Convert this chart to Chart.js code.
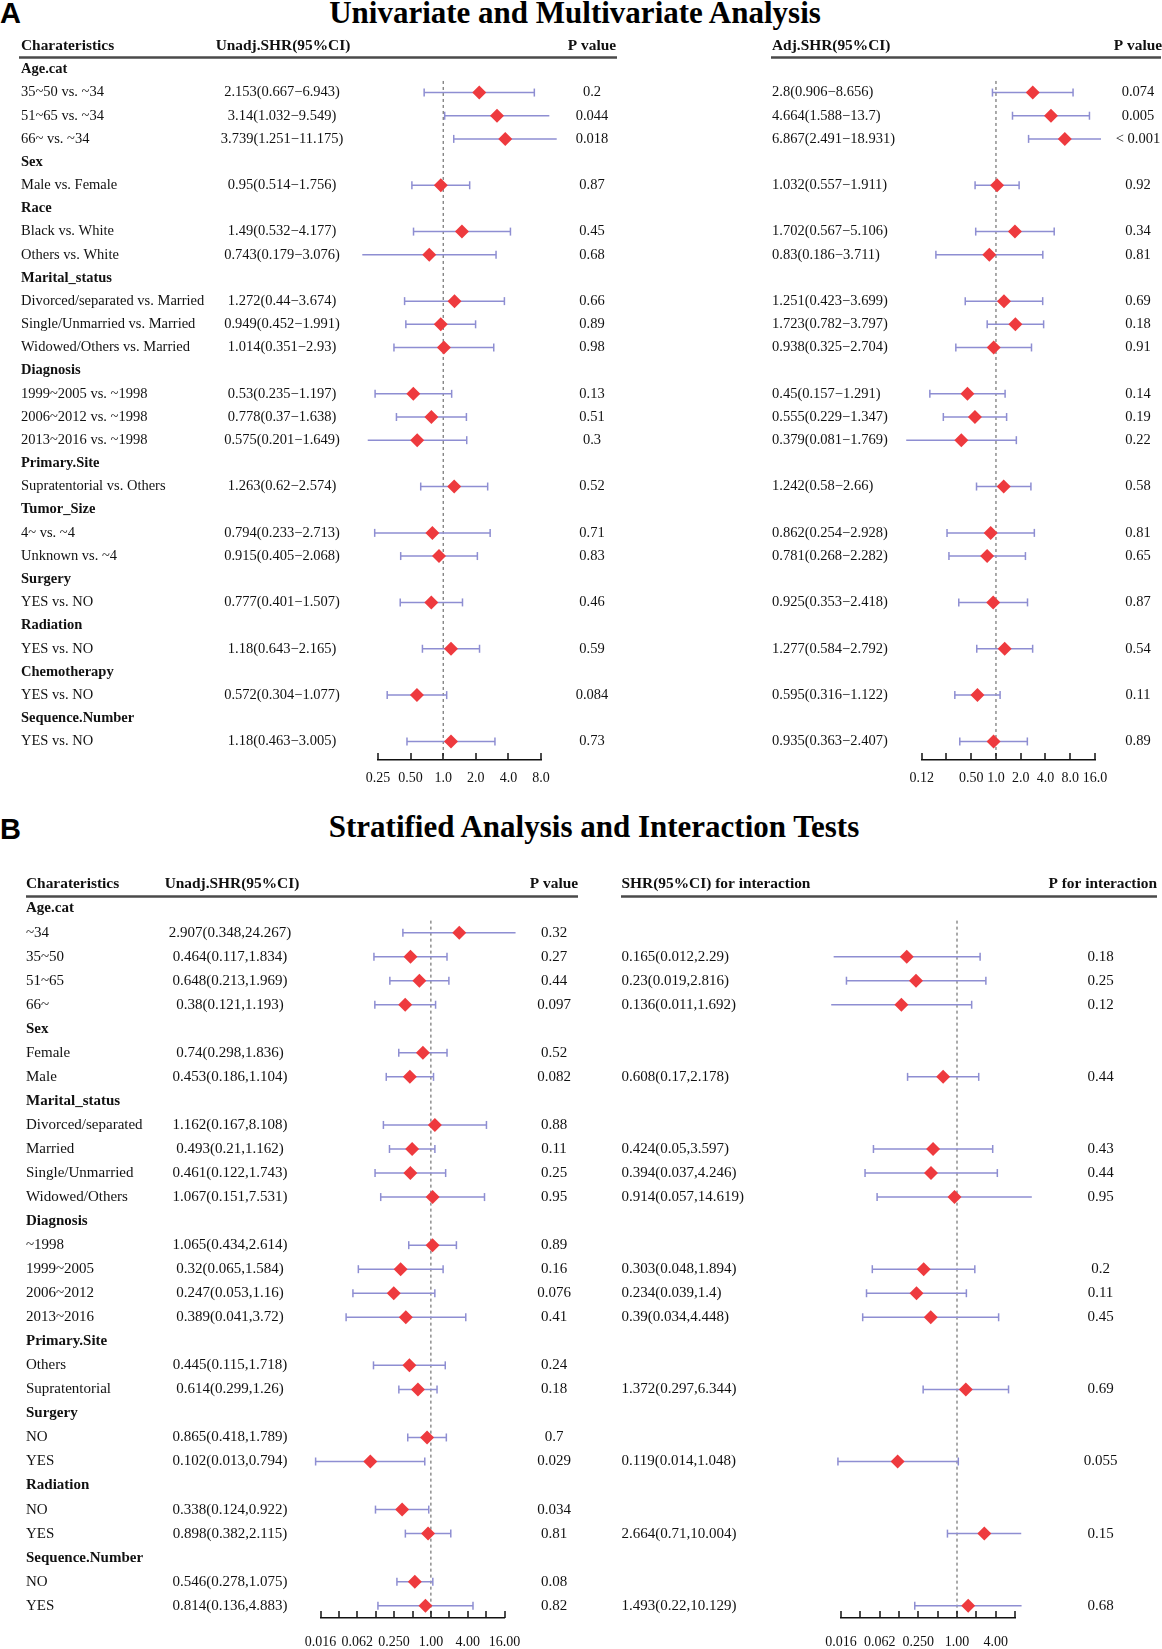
<!doctype html>
<html>
<head>
<meta charset="utf-8">
<title>Forest plots</title>
<script src="https://cdn.jsdelivr.net/npm/chart.js@4.4.1/dist/chart.umd.min.js"></script>
<style>
 body{margin:0;background:#fff}
 #page{position:relative;width:1162px;height:1649px;overflow:hidden}
 canvas{position:absolute}
 .ttl{position:absolute;width:800px;text-align:center;font:bold 31px/31px "Liberation Serif",serif;color:#000;white-space:nowrap}
 .tag{position:absolute;left:0;font:bold 29px/29px "Liberation Sans",Arial,sans-serif;color:#000}
</style>
</head>
<body>
<div id="page">
 <div class="tag" style="top:-1px">A</div>
 <div class="ttl" style="left:175px;top:-3px">Univariate and Multivariate Analysis</div>
 <div class="tag" style="top:815px">B</div>
 <div class="ttl" style="left:194px;top:811px">Stratified Analysis and Interaction Tests</div>
 <canvas id="aLeft" width="640" height="800" style="left:0;top:0"></canvas>
 <canvas id="aRight" width="522" height="800" style="left:640px;top:0"></canvas>
 <canvas id="bLeft" width="600" height="849" style="left:0;top:800px"></canvas>
 <canvas id="bRight" width="562" height="849" style="left:600px;top:800px"></canvas>
</div>

<script>
/* ===== Panel A: univariate / multivariate ============================ */
const aRows = ['Age.cat','35~50 vs. ~34','51~65 vs. ~34','66~ vs. ~34','Sex','Male vs. Female','Race','Black vs. White','Others vs. White',
  'Marital_status','Divorced/separated vs. Married','Single/Unmarried vs. Married','Widowed/Others vs. Married','Diagnosis',
  '1999~2005 vs. ~1998','2006~2012 vs. ~1998','2013~2016 vs. ~1998','Primary.Site','Supratentorial vs. Others','Tumor_Size',
  '4~ vs. ~4','Unknown vs. ~4','Surgery','YES vs. NO','Radiation','YES vs. NO','Chemotherapy','YES vs. NO','Sequence.Number','YES vs. NO'];
const aUniHR = [null,2.153,3.14,3.739,null,0.95,null,1.49,0.743,null,1.272,0.949,1.014,null,0.53,0.778,0.575,null,1.263,null,0.794,0.915,null,0.777,null,1.18,null,0.572,null,1.18];
const aUniLo = [null,0.667,1.032,1.251,null,0.514,null,0.532,0.179,null,0.44,0.452,0.351,null,0.235,0.37,0.201,null,0.62,null,0.233,0.405,null,0.401,null,0.643,null,0.304,null,0.463];
const aUniHi = [null,6.943,9.549,11.175,null,1.756,null,4.177,3.076,null,3.674,1.991,2.93,null,1.197,1.638,1.649,null,2.574,null,2.713,2.068,null,1.507,null,2.165,null,1.077,null,3.005];
const aUniP  = ['','0.2','0.044','0.018','','0.87','','0.45','0.68','','0.66','0.89','0.98','','0.13','0.51','0.3','','0.52','','0.71','0.83','','0.46','','0.59','','0.084','','0.73'];
const aAdjHR = [null,2.8,4.664,6.867,null,1.032,null,1.702,0.83,null,1.251,1.723,0.938,null,0.45,0.555,0.379,null,1.242,null,0.862,0.781,null,0.925,null,1.277,null,0.595,null,0.935];
const aAdjLo = [null,0.906,1.588,2.491,null,0.557,null,0.567,0.186,null,0.423,0.782,0.325,null,0.157,0.229,0.081,null,0.58,null,0.254,0.268,null,0.353,null,0.584,null,0.316,null,0.363];
const aAdjHi = [null,8.656,13.7,18.931,null,1.911,null,5.106,3.711,null,3.699,3.797,2.704,null,1.291,1.347,1.769,null,2.66,null,2.928,2.282,null,2.418,null,2.792,null,1.122,null,2.407];
const aAdjP  = ['','0.074','0.005','< 0.001','','0.92','','0.34','0.81','','0.69','0.18','0.91','','0.14','0.19','0.22','','0.58','','0.81','0.65','','0.87','','0.54','','0.11','','0.89'];

/* ===== Panel B: stratified / interaction ============================= */
const bRows = ['Age.cat','~34','35~50','51~65','66~','Sex','Female','Male','Marital_status','Divorced/separated','Married','Single/Unmarried',
  'Widowed/Others','Diagnosis','~1998','1999~2005','2006~2012','2013~2016','Primary.Site','Others','Supratentorial','Surgery','NO','YES',
  'Radiation','NO','YES','Sequence.Number','NO','YES'];
const bUniHR = [null,2.907,0.464,0.648,0.38,null,0.74,0.453,null,1.162,0.493,0.461,1.067,null,1.065,0.32,0.247,0.389,null,0.445,0.614,null,0.865,0.102,null,0.338,0.898,null,0.546,0.814];
const bUniLo = [null,0.348,0.117,0.213,0.121,null,0.298,0.186,null,0.167,0.21,0.122,0.151,null,0.434,0.065,0.053,0.041,null,0.115,0.299,null,0.418,0.013,null,0.124,0.382,null,0.278,0.136];
const bUniHi = [null,24.267,1.834,1.969,1.193,null,1.836,1.104,null,8.108,1.162,1.743,7.531,null,2.614,1.584,1.16,3.72,null,1.718,1.26,null,1.789,0.794,null,0.922,2.115,null,1.075,4.883];
const bUniP  = ['','0.32','0.27','0.44','0.097','','0.52','0.082','','0.88','0.11','0.25','0.95','','0.89','0.16','0.076','0.41','','0.24','0.18','','0.7','0.029','','0.034','0.81','','0.08','0.82'];
const bIntHR = [null,null,0.165,0.23,0.136,null,null,0.608,null,null,0.424,0.394,0.914,null,null,0.303,0.234,0.39,null,null,1.372,null,null,0.119,null,null,2.664,null,null,1.493];
const bIntLo = [null,null,0.012,0.019,0.011,null,null,0.17,null,null,0.05,0.037,0.057,null,null,0.048,0.039,0.034,null,null,0.297,null,null,0.014,null,null,0.71,null,null,0.22];
const bIntHi = [null,null,2.29,2.816,1.692,null,null,2.178,null,null,3.597,4.246,14.619,null,null,1.894,1.4,4.448,null,null,6.344,null,null,1.048,null,null,10.004,null,null,10.129];
const bIntP  = ['','','0.18','0.25','0.12','','','0.44','','','0.43','0.44','0.95','','','0.2','0.11','0.45','','','0.69','','','0.055','','','0.15','','','0.68'];

/* ===== axis ticks ==================================================== */
const aLeftTicks  = [0.25,0.5,1,2,4,8];
const aLeftLabels = ['0.25','0.50','1.0','2.0','4.0','8.0'];
const aRightTicks  = [0.125,0.25,0.5,1,2,4,8,16];
const aRightLabels = ['0.12','','0.50','1.0','2.0','4.0','8.0','16.0'];
const bLeftTicks  = [0.015625,0.03125,0.0625,0.125,0.25,0.5,1,2,4,8,16];
const bLeftLabels = ['0.016','','0.062','','0.250','','1.00','','4.00','','16.00'];
const bRightTicks  = [0.015625,0.03125,0.0625,0.125,0.25,0.5,1,2,4,8];
const bRightLabels = ['0.016','','0.062','','0.250','','1.00','','4.00',''];

const RED = '#ee3a3e', CI = '#8e8ed2', SERIF = '"Liberation Serif", "Times New Roman", serif';
const ci = (h,l,u,sep) => i => h[i]==null ? '' : `${h[i]}(${l[i]}${sep}${u[i]})`;

/* Tabelle, Kopfzeile, Referenzlinie und Achsenstriche */
const tablePlugin = {
  id:'table',
  beforeDatasetsDraw(chart, args, o){
    const {ctx, chartArea, scales:{x,y}} = chart;
    const px = x.getPixelForValue(1);
    ctx.save();
    ctx.strokeStyle = '#555'; ctx.lineWidth = 1; ctx.setLineDash([3,3]);
    ctx.beginPath(); ctx.moveTo(px, y.getPixelForValue(0.5)); ctx.lineTo(px, chartArea.bottom); ctx.stroke();
    ctx.restore();
  },
  afterDraw(chart, args, o){
    const {ctx, chartArea, scales:{x,y}} = chart;
    ctx.save();
    // tick marks pointing up
    ctx.strokeStyle = '#111'; ctx.lineWidth = 1.5;
    o.ticks.forEach(v=>{
      const px = Math.round(x.getPixelForValue(v));
      ctx.beginPath(); ctx.moveTo(px, chartArea.bottom); ctx.lineTo(px, chartArea.bottom-7); ctx.stroke();
    });
    // header
    ctx.fillStyle = '#111'; ctx.textBaseline = 'middle';
    ctx.font = `bold ${o.headSize}px ${SERIF}`;
    o.head.forEach(h=>{ ctx.textAlign = h.align; ctx.fillText(h.t, h.x, o.headY); });
    ctx.strokeStyle = '#4a4a4a'; ctx.lineWidth = 2.5;
    ctx.beginPath(); ctx.moveTo(o.line[0], o.lineY); ctx.lineTo(o.line[1], o.lineY); ctx.stroke();
    // rows
    for(let i=0;i<o.n;i++){
      const py = y.getPixelForValue(i);
      o.cols.forEach(c=>{
        const bold = c.group && o.isGroup(i);
        ctx.font = `${bold?'bold ':''}${o.size}px ${SERIF}`;
        ctx.textAlign = c.align;
        ctx.fillText(c.text(i), c.x, py);
      });
    }
    ctx.restore();
  }
};

function makeForest(id, f){
  const datasets = [{
    type:'scatter',
    data: f.hr.map((v,i)=> v==null ? null : {x:v, y:i}).filter(Boolean),
    pointStyle:'rectRot', pointRadius:7, pointHoverRadius:7,
    backgroundColor:RED, borderWidth:0, clip:false
  }];
  f.hr.forEach((v,i)=>{
    if(v==null) return;
    datasets.push({
      type:'line', data:[{x:f.lo[i],y:i},{x:f.hi[i],y:i}],
      borderColor:CI, borderWidth:1.5, pointStyle:'line', rotation:90,
      pointRadius:4, pointHoverRadius:4, pointBorderColor:CI, pointBorderWidth:1.5, clip:false
    });
  });
  const cv = document.getElementById(id);
  new Chart(cv, {
    data:{datasets},
    plugins:[tablePlugin],
    options:{
      responsive:false, animation:false, events:[],
      layout:{padding:{left:f.area[0], right:cv.width-f.area[1], top:f.area[2], bottom:cv.height-f.area[3]-30}},
      plugins:{
        legend:{display:false}, tooltip:{enabled:false},
        table:{n:f.rows.length, isGroup:i=>f.hr[i]==null && f.group, size:f.size, headSize:f.headSize,
               head:f.head, headY:f.headY, lineY:f.lineY, line:f.line, cols:f.cols, ticks:f.ticks}
      },
      scales:{
        x:{
          type:'logarithmic', position:'bottom', min:f.ticks[0], max:f.ticks[f.ticks.length-1],
          afterBuildTicks: s => { s.ticks = f.ticks.map(v=>({value:v})); },
          afterFit: s => { s.height = 30; },
          grid:{display:false, drawTicks:false},
          border:{display:true, color:'#111', width:1.5},
          ticks:{autoSkip:false, maxRotation:0, padding:f.tickPad, color:'#111',
                 font:{family:SERIF, size:14}, callback:(v,i)=>f.tickLabels[i]}
        },
        y:{type:'linear', display:false, reverse:true, min:-1, max:f.yMax}
      }
    }
  });
}

/* A left */
makeForest('aLeft', {
  rows:aRows, hr:aUniHR, lo:aUniLo, hi:aUniHi, group:true,
  ticks:aLeftTicks, tickLabels:aLeftLabels, tickPad:10,
  area:[378,541,46.2,760], yMax:29.8, size:14.5, headSize:15.4,
  head:[{t:'Charateristics',x:21,align:'left'},{t:'Unadj.SHR(95%CI)',x:283,align:'center'},{t:'P value',x:592,align:'center'}],
  headY:46.5, lineY:57.5, line:[19,617],
  cols:[{x:21,align:'left',group:true,text:i=>aRows[i]},
        {x:282,align:'center',text:ci(aUniHR,aUniLo,aUniHi,'−')},
        {x:592,align:'center',text:i=>aUniP[i]}]
});
/* A right */
makeForest('aRight', {
  rows:aRows, hr:aAdjHR, lo:aAdjLo, hi:aAdjHi, group:false,
  ticks:aRightTicks, tickLabels:aRightLabels, tickPad:10,
  area:[281.7,455,46.2,760], yMax:29.8, size:14.5, headSize:15.4,
  head:[{t:'Adj.SHR(95%CI)',x:132,align:'left'},{t:'P value',x:498,align:'center'}],
  headY:46.5, lineY:57.5, line:[131,521],
  cols:[{x:132,align:'left',text:ci(aAdjHR,aAdjLo,aAdjHi,'−')},
        {x:498,align:'center',text:i=>aAdjP[i]}]
});
/* B left */
makeForest('bLeft', {
  rows:bRows, hr:bUniHR, lo:bUniLo, hi:bUniHi, group:true,
  ticks:bLeftTicks, tickLabels:bLeftLabels, tickPad:16,
  area:[320.5,504.5,84.56,818], yMax:29.51, size:15, headSize:15.4,
  head:[{t:'Charateristics',x:26,align:'left'},{t:'Unadj.SHR(95%CI)',x:232,align:'center'},{t:'P value',x:554,align:'center'}],
  headY:84.5, lineY:96.5, line:[26,578],
  cols:[{x:26,align:'left',group:true,text:i=>bRows[i]},
        {x:230,align:'center',text:ci(bUniHR,bUniLo,bUniHi,',')},
        {x:554,align:'center',text:i=>bUniP[i]}]
});
/* B right */
makeForest('bRight', {
  rows:bRows, hr:bIntHR, lo:bIntLo, hi:bIntHi, group:false,
  ticks:bRightTicks, tickLabels:bRightLabels, tickPad:16,
  area:[241,415,84.56,818], yMax:29.51, size:15, headSize:15.4,
  head:[{t:'SHR(95%CI) for interaction',x:21.5,align:'left'},{t:'P for interaction',x:557,align:'right'}],
  headY:84.5, lineY:96.5, line:[21,557],
  cols:[{x:21.5,align:'left',text:ci(bIntHR,bIntLo,bIntHi,',')},
        {x:500.5,align:'center',text:i=>bIntP[i]}]
});
</script>
</body>
</html>
